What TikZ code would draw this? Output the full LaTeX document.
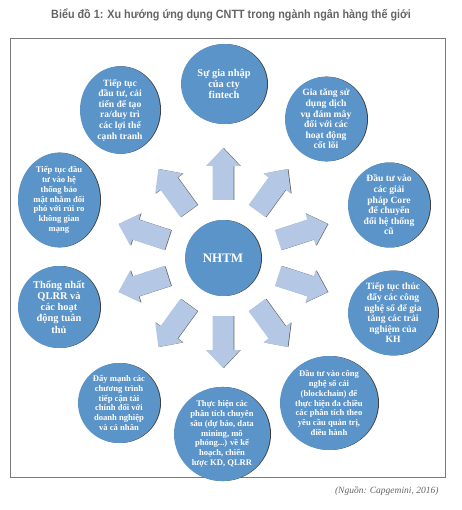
\documentclass[tikz,border=0pt]{standalone}
\usepackage{fontspec}
\setmainfont{Liberation Serif}
\newfontfamily\titlefont[FakeStretch=0.9]{Liberation Sans}
\usepackage{xcolor}
\usetikzlibrary{shapes.geometric}
\definecolor{bubblue}{HTML}{5B94C9}
\definecolor{arrblue}{HTML}{B4C7E4}
\definecolor{framegray}{HTML}{7A7A7A}
\definecolor{titlegray}{HTML}{646464}

\begin{document}
\begin{tikzpicture}[
  x=1pt, y=1pt,
  bubble/.style={ellipse, fill=bubblue, text=white, align=center, inner sep=0pt,
    font=\bfseries\fontsize{9.6}{10.6}\selectfont,
    preaction={fill=black!75, transform canvas={xshift=1pt}}},
  dims/.style 2 args={minimum width=#1, minimum height=#2},
  small/.style={font=\bfseries\fontsize{8.6}{9.8}\selectfont},
  large/.style={font=\bfseries\fontsize{10.4}{11.2}\selectfont},
  blockarr/.style={fill=arrblue, preaction={fill=black!60, transform canvas={xshift=0.8pt}}},
]
  \useasboundingbox (0,0) rectangle (461,-510);

  % Title, frame and source
  \node[font=\titlefont\bfseries\fontsize{12}{14}\selectfont, text=titlegray] (title) at (231,-15)
    {Biểu đồ 1: Xu hướng ứng dụng CNTT trong ngành ngân hàng thế giới};
  \draw[framegray, line width=0.8pt] (10,-38) rectangle (445,-477);
  \node[font=\itshape\fontsize{9.5}{11}\selectfont, text=titlegray, anchor=east] (source) at (442,-491)
    {(Nguồn: Capgemini, 2016)};

  % Centre
  \node[bubble, dims={76pt}{76pt}, font=\bfseries\fontsize{13}{15}\selectfont] (nhtm) at (223,-258) {NHTM};

  % Block arrows
  \foreach \a in {90,54,18,-18,-54,-90,-126,-162,162,126}
    \fill[blockarr, shift={(nhtm.center)}, rotate=\a]
      (58,-10.5) -- (92,-10.5) -- (92,-17) -- (110,0) -- (92,17) -- (92,10.5) -- (58,10.5) -- cycle;

  % Outer bubbles, clockwise from the top
  \node[bubble, large, dims={86pt}{80pt}] (fintech) at (224,-84) {Sự gia nhập\\của cty\\fintech};
  \node[bubble, dims={82pt}{82pt}] (cloud) at (326,-119) {Gia tăng sử\\dụng dịch\\vụ đám mây\\đối với các\\hoạt động\\cốt lõi};
  \node[bubble, dims={82pt}{84pt}] (core) at (389,-205) {Đầu tư vào\\các giải\\pháp Core\\để chuyển\\đổi hệ thống\\cũ};
  \node[bubble, dims={90pt}{84pt}] (digital) at (393,-313) {Tiếp tục thúc\\đẩy các công\\nghệ số để gia\\tăng các trải\\nghiệm của\\KH};
  \node[bubble, small, dims={98pt}{94pt}] (ledger) at (329,-403) {Đầu tư vào công\\nghệ sổ cái\\(blockchain) để\\thực hiện đa chiều\\các phân tích theo\\yêu cầu quản trị,\\điều hành};
  \node[bubble, small, dims={96pt}{80pt}] (analytics) at (222,-434) {Thực hiện các\\phân tích chuyên\\sâu (dự báo, data\\mining, mô\\phỏng...) về kế\\hoạch, chiến\\lược KD, QLRR};
  \node[bubble, small, dims={82pt}{80pt}] (finance) at (119,-403) {Đẩy mạnh các\\chương trình\\tiếp cận tài\\chính đối với\\doanh nghiệp\\và cá nhân};
  \node[bubble, large, dims={82pt}{82pt}] (risk) at (59,-307) {Thống nhất\\QLRR và\\các hoạt\\động tuân\\thủ};
  \node[bubble, small, dims={82pt}{86pt}] (security) at (59,-200) {Tiếp tục đầu\\tư vào hệ\\thống bảo\\mật nhằm đối\\phó với rủi ro\\không gian\\mạng};
  \node[bubble, dims={80pt}{80pt}] (edge) at (120,-110) {Tiếp tục\\đầu tư, cải\\tiến để tạo\\ra/duy trì\\các lợi thế\\cạnh tranh};
\end{tikzpicture}
\end{document}
